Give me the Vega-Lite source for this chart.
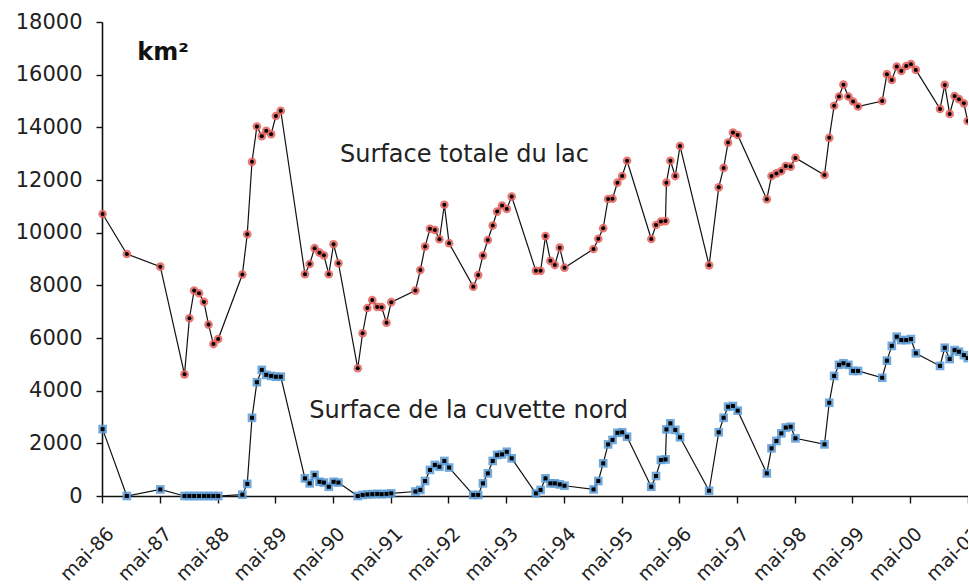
{
  "$schema": "https://vega.github.io/schema/vega-lite/v6.json",
  "width": 866,
  "height": 474,
  "autosize": {"type": "none"},
  "padding": {"left": 102, "top": 22, "right": 0, "bottom": 92},
  "background": "white",
  "config": {
    "view": {"stroke": null},
    "font": "DejaVu Sans",
    "axis": {"labelFont": "DejaVu Sans", "labelColor": "#222", "domainColor": "#111", "tickColor": "#111", "domainWidth": 1.6, "tickWidth": 1.4, "grid": false, "title": null}
  },
  "datasets": {
    "series": [
      {"d":"1986-05-05","s":"T","v":10710},{"d":"1986-10-05","s":"T","v":9190},{"d":"1987-05-05","s":"T","v":8710},
      {"d":"1987-10-05","s":"T","v":4620},{"d":"1987-11-05","s":"T","v":6750},{"d":"1987-12-05","s":"T","v":7800},
      {"d":"1988-01-05","s":"T","v":7700},{"d":"1988-02-05","s":"T","v":7370},{"d":"1988-03-05","s":"T","v":6510},
      {"d":"1988-04-05","s":"T","v":5770},{"d":"1988-05-05","s":"T","v":5960},{"d":"1988-10-05","s":"T","v":8410},
      {"d":"1988-11-05","s":"T","v":9940},{"d":"1988-12-05","s":"T","v":12690},{"d":"1989-01-05","s":"T","v":14030},
      {"d":"1989-02-05","s":"T","v":13660},{"d":"1989-03-05","s":"T","v":13870},{"d":"1989-04-05","s":"T","v":13740},
      {"d":"1989-05-05","s":"T","v":14430},{"d":"1989-06-05","s":"T","v":14630},{"d":"1989-11-05","s":"T","v":8420},
      {"d":"1989-12-05","s":"T","v":8810},{"d":"1990-01-05","s":"T","v":9410},{"d":"1990-02-05","s":"T","v":9240},
      {"d":"1990-03-05","s":"T","v":9140},{"d":"1990-04-05","s":"T","v":8420},{"d":"1990-05-05","s":"T","v":9560},
      {"d":"1990-06-05","s":"T","v":8840},{"d":"1990-10-05","s":"T","v":4850},{"d":"1990-11-05","s":"T","v":6180},
      {"d":"1990-12-05","s":"T","v":7140},{"d":"1991-01-05","s":"T","v":7440},{"d":"1991-02-05","s":"T","v":7180},
      {"d":"1991-03-05","s":"T","v":7170},{"d":"1991-04-05","s":"T","v":6580},{"d":"1991-05-05","s":"T","v":7360},
      {"d":"1991-10-05","s":"T","v":7800},{"d":"1991-11-05","s":"T","v":8580},{"d":"1991-12-05","s":"T","v":9470},
      {"d":"1992-01-05","s":"T","v":10150},{"d":"1992-02-05","s":"T","v":10100},{"d":"1992-03-05","s":"T","v":9750},
      {"d":"1992-04-05","s":"T","v":11060},{"d":"1992-05-05","s":"T","v":9600},{"d":"1992-10-05","s":"T","v":7950},
      {"d":"1992-11-05","s":"T","v":8390},{"d":"1992-12-05","s":"T","v":9130},{"d":"1993-01-05","s":"T","v":9720},
      {"d":"1993-02-05","s":"T","v":10270},{"d":"1993-03-05","s":"T","v":10800},{"d":"1993-04-05","s":"T","v":11030},
      {"d":"1993-05-05","s":"T","v":10900},{"d":"1993-06-05","s":"T","v":11370},{"d":"1993-11-05","s":"T","v":8550},
      {"d":"1993-12-05","s":"T","v":8550},{"d":"1994-01-05","s":"T","v":9870},{"d":"1994-02-05","s":"T","v":8930},
      {"d":"1994-03-05","s":"T","v":8770},{"d":"1994-04-05","s":"T","v":9430},{"d":"1994-05-05","s":"T","v":8670},
      {"d":"1994-11-05","s":"T","v":9380},{"d":"1994-12-05","s":"T","v":9770},{"d":"1995-01-05","s":"T","v":10170},
      {"d":"1995-02-05","s":"T","v":11280},{"d":"1995-03-05","s":"T","v":11290},{"d":"1995-04-05","s":"T","v":11900},
      {"d":"1995-05-05","s":"T","v":12150},{"d":"1995-06-05","s":"T","v":12730},{"d":"1995-11-05","s":"T","v":9760},
      {"d":"1995-12-05","s":"T","v":10290},{"d":"1996-01-05","s":"T","v":10420},{"d":"1996-02-03","s":"T","v":10440},
      {"d":"1996-02-09","s":"T","v":11900},{"d":"1996-03-05","s":"T","v":12730},{"d":"1996-04-05","s":"T","v":12150},
      {"d":"1996-05-05","s":"T","v":13290},{"d":"1996-11-05","s":"T","v":8760},{"d":"1997-01-05","s":"T","v":11720},
      {"d":"1997-02-05","s":"T","v":12460},{"d":"1997-03-05","s":"T","v":13420},{"d":"1997-04-05","s":"T","v":13800},
      {"d":"1997-05-05","s":"T","v":13710},{"d":"1997-11-05","s":"T","v":11270},{"d":"1997-12-05","s":"T","v":12150},
      {"d":"1998-01-05","s":"T","v":12250},{"d":"1998-02-05","s":"T","v":12340},{"d":"1998-03-05","s":"T","v":12530},
      {"d":"1998-04-05","s":"T","v":12510},{"d":"1998-05-05","s":"T","v":12840},{"d":"1998-11-05","s":"T","v":12190},
      {"d":"1998-12-05","s":"T","v":13600},{"d":"1999-01-05","s":"T","v":14820},{"d":"1999-02-05","s":"T","v":15170},
      {"d":"1999-03-05","s":"T","v":15620},{"d":"1999-04-05","s":"T","v":15170},{"d":"1999-05-05","s":"T","v":14980},
      {"d":"1999-06-05","s":"T","v":14790},{"d":"1999-11-05","s":"T","v":15000},{"d":"1999-12-05","s":"T","v":16020},
      {"d":"2000-01-05","s":"T","v":15800},{"d":"2000-02-05","s":"T","v":16310},{"d":"2000-03-05","s":"T","v":16140},
      {"d":"2000-04-05","s":"T","v":16330},{"d":"2000-05-05","s":"T","v":16400},{"d":"2000-06-05","s":"T","v":16180},
      {"d":"2000-11-05","s":"T","v":14700},{"d":"2000-12-05","s":"T","v":15610},{"d":"2001-01-05","s":"T","v":14510},
      {"d":"2001-02-05","s":"T","v":15190},{"d":"2001-03-05","s":"T","v":15070},{"d":"2001-04-05","s":"T","v":14910},
      {"d":"2001-04-29","s":"T","v":14240},

      {"d":"1986-05-05","s":"N","v":2540},{"d":"1986-10-05","s":"N","v":0},{"d":"1987-05-05","s":"N","v":250},
      {"d":"1987-10-05","s":"N","v":0},{"d":"1987-11-05","s":"N","v":0},{"d":"1987-12-05","s":"N","v":0},
      {"d":"1988-01-05","s":"N","v":0},{"d":"1988-02-05","s":"N","v":0},{"d":"1988-03-05","s":"N","v":0},
      {"d":"1988-04-05","s":"N","v":0},{"d":"1988-05-05","s":"N","v":0},{"d":"1988-10-05","s":"N","v":50},
      {"d":"1988-11-05","s":"N","v":460},{"d":"1988-12-05","s":"N","v":2970},{"d":"1989-01-05","s":"N","v":4320},
      {"d":"1989-02-05","s":"N","v":4790},{"d":"1989-03-05","s":"N","v":4600},{"d":"1989-04-05","s":"N","v":4560},
      {"d":"1989-05-05","s":"N","v":4530},{"d":"1989-06-05","s":"N","v":4530},{"d":"1989-11-05","s":"N","v":670},
      {"d":"1989-12-05","s":"N","v":480},{"d":"1990-01-05","s":"N","v":800},{"d":"1990-02-05","s":"N","v":540},
      {"d":"1990-03-05","s":"N","v":510},{"d":"1990-04-05","s":"N","v":350},{"d":"1990-05-05","s":"N","v":540},
      {"d":"1990-06-05","s":"N","v":510},{"d":"1990-10-05","s":"N","v":0},{"d":"1990-11-05","s":"N","v":40},
      {"d":"1990-12-05","s":"N","v":60},{"d":"1991-01-05","s":"N","v":70},{"d":"1991-02-05","s":"N","v":80},
      {"d":"1991-03-05","s":"N","v":70},{"d":"1991-04-05","s":"N","v":80},{"d":"1991-05-05","s":"N","v":100},
      {"d":"1991-10-05","s":"N","v":170},{"d":"1991-11-05","s":"N","v":230},{"d":"1991-12-05","s":"N","v":570},
      {"d":"1992-01-05","s":"N","v":990},{"d":"1992-02-05","s":"N","v":1180},{"d":"1992-03-05","s":"N","v":1110},
      {"d":"1992-04-05","s":"N","v":1330},{"d":"1992-05-05","s":"N","v":1080},{"d":"1992-10-05","s":"N","v":40},
      {"d":"1992-11-05","s":"N","v":40},{"d":"1992-12-05","s":"N","v":480},{"d":"1993-01-05","s":"N","v":860},
      {"d":"1993-02-05","s":"N","v":1330},{"d":"1993-03-05","s":"N","v":1560},{"d":"1993-04-05","s":"N","v":1580},
      {"d":"1993-05-05","s":"N","v":1680},{"d":"1993-06-05","s":"N","v":1430},{"d":"1993-11-05","s":"N","v":100},
      {"d":"1993-12-05","s":"N","v":230},{"d":"1994-01-05","s":"N","v":670},{"d":"1994-02-05","s":"N","v":480},
      {"d":"1994-03-05","s":"N","v":480},{"d":"1994-04-05","s":"N","v":440},{"d":"1994-05-05","s":"N","v":390},
      {"d":"1994-11-05","s":"N","v":250},{"d":"1994-12-05","s":"N","v":570},{"d":"1995-01-05","s":"N","v":1240},
      {"d":"1995-02-05","s":"N","v":1960},{"d":"1995-03-05","s":"N","v":2130},{"d":"1995-04-05","s":"N","v":2400},
      {"d":"1995-05-05","s":"N","v":2420},{"d":"1995-06-05","s":"N","v":2250},{"d":"1995-11-05","s":"N","v":350},
      {"d":"1995-12-05","s":"N","v":760},{"d":"1996-01-05","s":"N","v":1370},{"d":"1996-02-03","s":"N","v":1390},
      {"d":"1996-02-09","s":"N","v":2530},{"d":"1996-03-05","s":"N","v":2760},{"d":"1996-04-05","s":"N","v":2510},
      {"d":"1996-05-05","s":"N","v":2230},{"d":"1996-11-05","s":"N","v":200},{"d":"1997-01-05","s":"N","v":2420},
      {"d":"1997-02-05","s":"N","v":2970},{"d":"1997-03-05","s":"N","v":3390},{"d":"1997-04-05","s":"N","v":3420},
      {"d":"1997-05-05","s":"N","v":3240},{"d":"1997-11-05","s":"N","v":860},{"d":"1997-12-05","s":"N","v":1810},
      {"d":"1998-01-05","s":"N","v":2090},{"d":"1998-02-05","s":"N","v":2380},{"d":"1998-03-05","s":"N","v":2600},
      {"d":"1998-04-05","s":"N","v":2630},{"d":"1998-05-05","s":"N","v":2190},{"d":"1998-11-05","s":"N","v":1960},
      {"d":"1998-12-05","s":"N","v":3540},{"d":"1999-01-05","s":"N","v":4560},{"d":"1999-02-05","s":"N","v":4980},
      {"d":"1999-03-05","s":"N","v":5040},{"d":"1999-04-05","s":"N","v":4980},{"d":"1999-05-05","s":"N","v":4750},
      {"d":"1999-06-05","s":"N","v":4750},{"d":"1999-11-05","s":"N","v":4490},{"d":"1999-12-05","s":"N","v":5140},
      {"d":"2000-01-05","s":"N","v":5700},{"d":"2000-02-05","s":"N","v":6050},{"d":"2000-03-05","s":"N","v":5920},
      {"d":"2000-04-05","s":"N","v":5920},{"d":"2000-05-05","s":"N","v":5960},{"d":"2000-06-05","s":"N","v":5420},
      {"d":"2000-11-05","s":"N","v":4940},{"d":"2000-12-05","s":"N","v":5630},{"d":"2001-01-05","s":"N","v":5200},
      {"d":"2001-02-05","s":"N","v":5540},{"d":"2001-03-05","s":"N","v":5480},{"d":"2001-04-05","s":"N","v":5350},
      {"d":"2001-04-29","s":"N","v":5240}
    ],
    "labels": [
      {"d":"1990-06-15","v":12700,"t":"Surface totale du lac"},
      {"d":"1989-12-02","v":2980,"t":"Surface de la cuvette nord"}
    ],
    "unit": [
      {"d":"1986-12-10","v":16560,"t":"km²"}
    ]
  },
  "layer": [
    {
      "data": {"name": "series"},
      "mark": {"type": "line", "color": "#111", "strokeWidth": 1.2},
      "encoding": {
        "x": {"field": "d", "type": "temporal",
          "scale": {"type": "utc", "domain": [{"year":1986,"month":5,"date":1,"utc":true},{"year":2001,"month":5,"date":1,"utc":true}]},
          "axis": {
            "values": [
              {"year":1986,"month":5,"date":1,"utc":true},{"year":1987,"month":5,"date":1,"utc":true},{"year":1988,"month":5,"date":1,"utc":true},
              {"year":1989,"month":5,"date":1,"utc":true},{"year":1990,"month":5,"date":1,"utc":true},{"year":1991,"month":5,"date":1,"utc":true},
              {"year":1992,"month":5,"date":1,"utc":true},{"year":1993,"month":5,"date":1,"utc":true},{"year":1994,"month":5,"date":1,"utc":true},
              {"year":1995,"month":5,"date":1,"utc":true},{"year":1996,"month":5,"date":1,"utc":true},{"year":1997,"month":5,"date":1,"utc":true},
              {"year":1998,"month":5,"date":1,"utc":true},{"year":1999,"month":5,"date":1,"utc":true},{"year":2000,"month":5,"date":1,"utc":true},
              {"year":2001,"month":5,"date":1,"utc":true}
            ],
            "labelExpr": "'mai-' + utcFormat(datum.value, '%y')",
            "labelAngle": -45, "labelAlign": "right", "labelBaseline": "top",
            "labelFontSize": 19, "tickSize": 7, "labelPadding": 21, "labelOffset": 2, "labelOverlap": false, "labelBound": false, "labelFlush": false
          }
        },
        "y": {"field": "v", "type": "quantitative",
          "scale": {"domain": [0, 18000], "nice": false},
          "axis": {"values": [0,2000,4000,6000,8000,10000,12000,14000,16000,18000], "format": "d", "labelFontSize": 21, "tickSize": 6, "labelPadding": 14}
        },
        "detail": {"field": "s"}
      }
    },
    {
      "data": {"name": "series"},
      "mark": {"type": "point", "filled": true, "opacity": 0.85},
      "encoding": {
        "x": {"field": "d", "type": "temporal"},
        "y": {"field": "v", "type": "quantitative"},
        "shape": {"field": "s", "type": "nominal", "scale": {"domain": ["T","N"], "range": ["circle","square"]}, "legend": null},
        "color": {"field": "s", "type": "nominal", "scale": {"domain": ["T","N"], "range": ["#e3605a","#5b9bd5"]}, "legend": null},
        "size": {"value": 75}
      }
    },
    {
      "data": {"name": "series"},
      "mark": {"type": "point", "filled": true, "color": "#000", "opacity": 1},
      "encoding": {
        "x": {"field": "d", "type": "temporal"},
        "y": {"field": "v", "type": "quantitative"},
        "shape": {"field": "s", "type": "nominal", "scale": {"domain": ["T","N"], "range": ["circle","square"]}, "legend": null},
        "size": {"value": 16}
      }
    },
    {
      "data": {"name": "labels"},
      "mark": {"type": "text", "align": "left", "baseline": "alphabetic", "fontSize": 24, "color": "#222", "font": "DejaVu Sans"},
      "encoding": {
        "x": {"field": "d", "type": "temporal"},
        "y": {"field": "v", "type": "quantitative"},
        "text": {"field": "t"}
      }
    },
    {
      "data": {"name": "unit"},
      "mark": {"type": "text", "align": "left", "baseline": "alphabetic", "fontSize": 24, "fontWeight": "bold", "color": "#111", "font": "DejaVu Sans"},
      "encoding": {
        "x": {"field": "d", "type": "temporal"},
        "y": {"field": "v", "type": "quantitative"},
        "text": {"field": "t"}
      }
    }
  ]
}
